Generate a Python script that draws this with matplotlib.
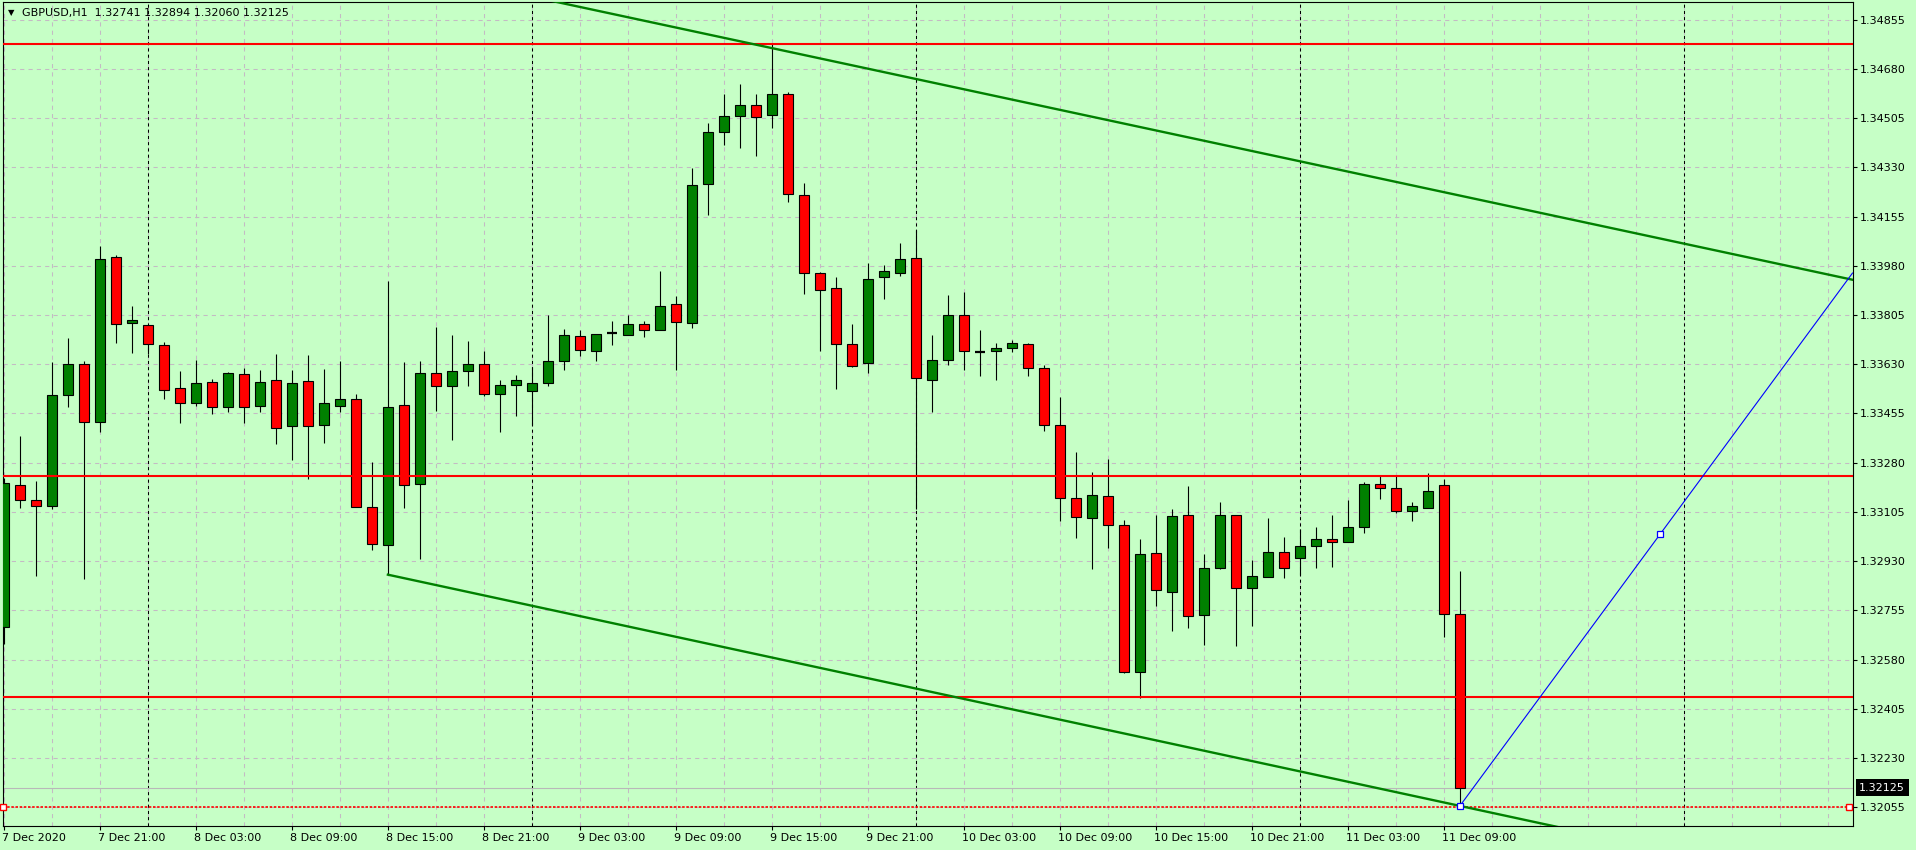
import matplotlib
matplotlib.use("Agg")
import matplotlib.pyplot as plt
from matplotlib.transforms import blended_transform_factory, ScaledTranslation
from matplotlib.ticker import FixedLocator, MultipleLocator
import numpy as np

# ---------------- data ----------------
symbol_title = "GBPUSD,H1"
header_values = "1.32741 1.32894 1.32060 1.32125"

opens = [1.32695, 1.33200, 1.33146, 1.33126, 1.33520, 1.33630, 1.33424, 1.34010, 1.33776, 1.33768,
         1.33697, 1.33545, 1.33491, 1.33566, 1.33477, 1.33594, 1.33481, 1.33573, 1.33409, 1.33569,
         1.33413, 1.33481, 1.33505, 1.33122, 1.32986, 1.33484, 1.33203, 1.33598, 1.33552, 1.33605,
         1.33630, 1.33523, 1.33555, 1.33534, 1.33562, 1.33640, 1.33729, 1.33676, 1.33740, 1.33733,
         1.33772, 1.33751, 1.33843, 1.33776, 1.34270, 1.34455, 1.34512, 1.34551, 1.34515, 1.34590,
         1.34231, 1.33953, 1.33900, 1.33701, 1.33633, 1.33939, 1.33953, 1.34007, 1.33575, 1.33644,
         1.33804, 1.33674, 1.33676, 1.33687, 1.33701, 1.33616, 1.33413, 1.33154, 1.33082, 1.33161,
         1.33058, 1.32535, 1.32958, 1.32822, 1.33093, 1.32737, 1.32904, 1.33093, 1.32833, 1.32872,
         1.32962, 1.32941, 1.32983, 1.33010, 1.32997, 1.33050, 1.33203, 1.33189, 1.33110, 1.33120,
         1.33200, 1.32741]
highs = [1.33226, 1.33375, 1.33215, 1.33638, 1.33723, 1.33643, 1.34050, 1.34017, 1.33837, 1.33769,
         1.33708, 1.33606, 1.33645, 1.33578, 1.33602, 1.33617, 1.33610, 1.33666, 1.33610, 1.33663,
         1.33613, 1.33642, 1.33524, 1.33283, 1.33927, 1.33638, 1.33642, 1.33764, 1.33734, 1.33713,
         1.33677, 1.33573, 1.33591, 1.33620, 1.33805, 1.33755, 1.33752, 1.33736, 1.33784, 1.33804,
         1.33784, 1.33962, 1.33873, 1.34327, 1.34487, 1.34591, 1.34626, 1.34591, 1.34770, 1.34597,
         1.34274, 1.33958, 1.33940, 1.33773, 1.33990, 1.33983, 1.34060, 1.34107, 1.33734, 1.33876,
         1.33887, 1.33752, 1.33705, 1.33715, 1.33705, 1.33626, 1.33514, 1.33318, 1.33246, 1.33293,
         1.33075, 1.33008, 1.33094, 1.33114, 1.33197, 1.32955, 1.33141, 1.33093, 1.32934, 1.33083,
         1.33016, 1.33045, 1.33051, 1.33095, 1.33147, 1.33210, 1.33233, 1.33233, 1.33141, 1.33242,
         1.33222, 1.32894]
lows = [1.32636, 1.33120, 1.32878, 1.33114, 1.33479, 1.32866, 1.33390, 1.33707, 1.33671, 1.33668,
        1.33507, 1.33422, 1.33483, 1.33452, 1.33461, 1.33422, 1.33459, 1.33348, 1.33291, 1.33221,
        1.33351, 1.33461, 1.33122, 1.32971, 1.32882, 1.33120, 1.32939, 1.33465, 1.33361, 1.33554,
        1.33518, 1.33390, 1.33447, 1.33414, 1.33554, 1.33611, 1.33660, 1.33643, 1.33700, 1.33733,
        1.33728, 1.33751, 1.33611, 1.33758, 1.34162, 1.34411, 1.34400, 1.34371, 1.34471, 1.34208,
        1.33881, 1.33678, 1.33543, 1.33619, 1.33600, 1.33863, 1.33943, 1.33116, 1.33460, 1.33628,
        1.33611, 1.33589, 1.33575, 1.33672, 1.33589, 1.33394, 1.33074, 1.33013, 1.32903, 1.32978,
        1.32531, 1.32444, 1.32772, 1.32680, 1.32691, 1.32632, 1.32901, 1.32629, 1.32699, 1.32872,
        1.32871, 1.32882, 1.32906, 1.32910, 1.32997, 1.33031, 1.33152, 1.33102, 1.33073, 1.33120,
        1.32662, 1.32060]
closes = [1.33207, 1.33146, 1.33125, 1.33520, 1.33630, 1.33424, 1.34003, 1.33772, 1.33786, 1.33701,
          1.33540, 1.33491, 1.33562, 1.33477, 1.33598, 1.33477, 1.33566, 1.33404, 1.33562, 1.33409,
          1.33491, 1.33505, 1.33122, 1.32990, 1.33477, 1.33200, 1.33598, 1.33552, 1.33605, 1.33630,
          1.33525, 1.33555, 1.33573, 1.33562, 1.33640, 1.33733, 1.33680, 1.33736, 1.33740, 1.33772,
          1.33751, 1.33836, 1.33779, 1.34266, 1.34455, 1.34512, 1.34551, 1.34508, 1.34590, 1.34234,
          1.33953, 1.33893, 1.33701, 1.33623, 1.33932, 1.33960, 1.34003, 1.33580, 1.33644, 1.33804,
          1.33676, 1.33674, 1.33687, 1.33705, 1.33616, 1.33413, 1.33154, 1.33086, 1.33164, 1.33058,
          1.32535, 1.32954, 1.32826, 1.33089, 1.32734, 1.32904, 1.33093, 1.32833, 1.32876, 1.32962,
          1.32905, 1.32983, 1.33010, 1.32997, 1.33050, 1.33203, 1.33189, 1.33110, 1.33125, 1.33181,
          1.32741, 1.32125]

x_tick_idx = [0, 6, 12, 18, 24, 30, 36, 42, 48, 54, 60, 66, 72, 78, 84, 90]
x_tick_labels = ["7 Dec 2020", "7 Dec 21:00", "8 Dec 03:00", "8 Dec 09:00", "8 Dec 15:00",
                 "8 Dec 21:00", "9 Dec 03:00", "9 Dec 09:00", "9 Dec 15:00", "9 Dec 21:00",
                 "10 Dec 03:00", "10 Dec 09:00", "10 Dec 15:00", "10 Dec 21:00",
                 "11 Dec 03:00", "11 Dec 09:00"]
y_ticks = [1.32055, 1.32230, 1.32405, 1.32580, 1.32755, 1.32930, 1.33105, 1.33280, 1.33455,
           1.33630, 1.33805, 1.33980, 1.34155, 1.34330, 1.34505, 1.34680, 1.34855]
day_separators = [9, 33, 57, 81, 105]

red_levels = [1.34770, 1.33234, 1.32448]
dotted_level = 1.32055
bid_price = 1.32125

upper_channel = [(48, 1.34754), (110, 1.33998)]
lower_channel = [(24, 1.32882), (91, 1.32060)]
blue_ray = [(91, 1.32060), (103.5, 1.33025)]

# ---------------- layout ----------------
W, H, DPI = 1916, 850, 100
BG = "#C6FFC6"
GREEN = "#008000"
RED = "#FF0000"
GRID = "#C4BAC4"
L_PX, R_PX, T_PX, B_PX = 2.5, 1852.5, 2.0, 825.7
X0_PX, DX_PX = 3.9, 16.0  # candle 0 centre, candle spacing
Y_TOP, Y_BOT = 1.349179, 1.319896

plt.rcParams["font.family"] = ["DejaVu Sans"]
fig = plt.figure(figsize=(W / DPI, H / DPI), dpi=DPI, facecolor=BG)
ax = fig.add_axes([L_PX / W, 1 - B_PX / H, (R_PX - L_PX) / W, (B_PX - T_PX) / H])
ax.set_facecolor(BG)
xmin = (L_PX - X0_PX) / DX_PX
xmax = (R_PX - X0_PX) / DX_PX
ax.set_xlim(xmin, xmax)
ax.set_ylim(Y_BOT, Y_TOP)

o = np.array(opens); h = np.array(highs); l = np.array(lows); c = np.array(closes)
x = np.arange(len(o))

# grid
ax.set_axisbelow(True)
ax.yaxis.set_major_locator(FixedLocator(y_ticks))
ax.xaxis.set_major_locator(FixedLocator(x_tick_idx))
ax.xaxis.set_minor_locator(MultipleLocator(3))
ax.grid(True, which="both", axis="x", color=GRID, lw=0.75, ls=(0, (4, 4)))
ax.grid(True, which="major", axis="y", color=GRID, lw=0.75, ls=(0, (4, 4)))

for d in day_separators:
    ax.axvline(d, color="black", lw=0.75, ls=(0, (3, 3)), zorder=1)

# candles
ax.vlines(x, l, h, color="black", lw=0.8, zorder=3)
doji = o == c
nd = ~doji
cols = np.where(c > o, GREEN, RED)
ax.bar(x[nd], np.abs(c - o)[nd], bottom=np.minimum(o, c)[nd], width=0.63,
       color=cols[nd], edgecolor="black", linewidth=0.8, zorder=4)
ax.hlines(o[doji], x[doji] - 0.33, x[doji] + 0.33, color="black", lw=1.6, zorder=4)

# horizontal objects
ax.axhline(bid_price, color="#B8B8B8", lw=0.8, zorder=2)
for lev in red_levels:
    ax.axhline(lev, color=RED, lw=1.5, zorder=5)
ax.axhline(dotted_level, color=RED, lw=1.2, ls=(0, (1.5, 1)), zorder=5)
ax.plot([xmin + 0.04, xmax - 0.2], [dotted_level, dotted_level], "s", ms=4, mfc="white",
        mec=RED, mew=1.0, zorder=6, clip_on=False)

# channel lines
def line_y(pts, xs):
    (x1, y1), (x2, y2) = pts
    return y1 + (y2 - y1) / (x2 - x1) * (np.asarray(xs) - x1)

xs_u = np.array([xmin, xmax])
ax.plot(xs_u, line_y(upper_channel, xs_u), color=GREEN, lw=1.7, zorder=5)
xs_l = np.array([lower_channel[0][0], xmax])
ax.plot(xs_l, line_y(lower_channel, xs_l), color=GREEN, lw=1.7, zorder=5)
xs_b = np.array([blue_ray[0][0], xmax])
ax.plot(xs_b, line_y(blue_ray, xs_b), color="#0000FF", lw=0.8, zorder=6)
ax.plot([p[0] for p in blue_ray], [p[1] for p in blue_ray], "s", ms=4, mfc="white",
        mec="#0000FF", mew=0.9, zorder=7)

# axes styling
for s in ax.spines.values():
    s.set_color("black")
    s.set_linewidth(0.8)
ax.yaxis.tick_right()
ax.tick_params(axis="y", which="major", direction="out", length=3, width=0.8,
               pad=2.5, labelsize=8, colors="black")
ax.set_yticklabels([f"{v:.5f}" for v in y_ticks])
ax.tick_params(axis="x", which="major", direction="out", length=3, width=0.8,
               pad=2.5, labelsize=8, colors="black")
ax.tick_params(axis="x", which="minor", length=0)
ax.set_xticklabels(x_tick_labels)
shift = ScaledTranslation(-2 / DPI, 0, fig.dpi_scale_trans)
for lbl in ax.get_xticklabels():
    lbl.set_ha("left")
    lbl.set_transform(lbl.get_transform() + shift)

# bid price box
bt = blended_transform_factory(ax.transAxes, ax.transData)
ax.text(1 + (1859.3 - R_PX) / (R_PX - L_PX), bid_price, f"{bid_price:.5f}", transform=bt,
        ha="left", va="center", fontsize=8, color="white", clip_on=False, zorder=10,
        bbox=dict(boxstyle="square,pad=0.3", fc="black", ec="none"))

# header
fig.text(11 / W, 1 - 12.7 / H, "\u25BC", fontsize=6, ha="center", va="center", color="black")
fig.text(21.7 / W, 1 - 12.7 / H, f"{symbol_title}  {header_values}", fontsize=8,
         ha="left", va="center", color="black")

fig.savefig("out.png", dpi=DPI, facecolor=BG)
